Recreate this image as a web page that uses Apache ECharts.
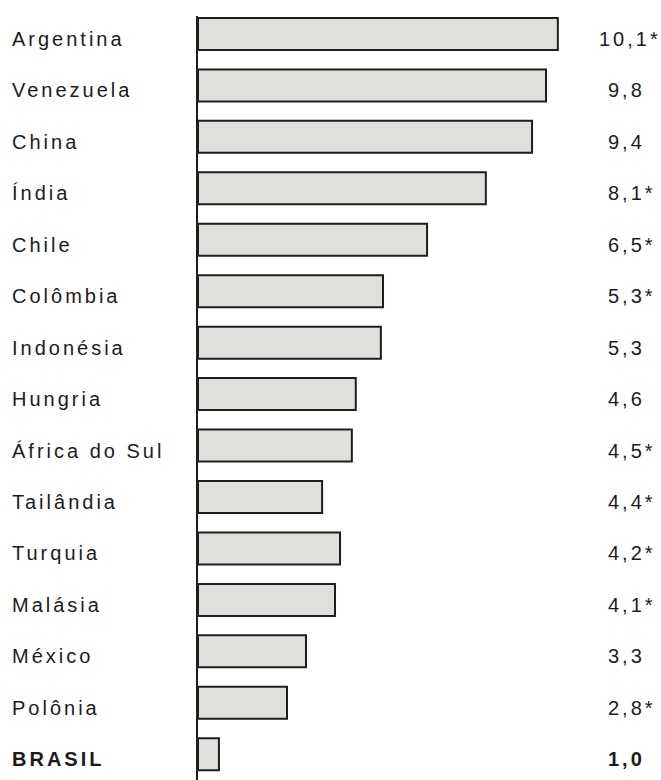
<!DOCTYPE html>
<html>
<head>
<meta charset="utf-8">
<script src="https://cdn.jsdelivr.net/npm/echarts@6/dist/echarts.min.js"></script>
<style>
  html, body { margin: 0; padding: 0; background: #ffffff; }
  #chart { width: 661px; height: 780px; }
  #chart text { letter-spacing: 3px; }
</style>
</head>
<body>
<div id="chart"></div>
<script>
// Countries (top to bottom)
const categories = ['Argentina', 'Venezuela', 'China', 'Índia', 'Chile', 'Colômbia', 'Indonésia',
  'Hungria', 'África do Sul', 'Tailândia', 'Turquia', 'Malásia', 'México', 'Polônia', 'BRASIL'];
// Bar lengths as drawn in the picture
const barValues = [10.1, 9.77, 9.38, 8.09, 6.45, 5.22, 5.16, 4.46, 4.35, 3.52, 4.02, 3.88, 3.07, 2.54, 0.64];
// Printed value labels
const valueLabels = ['10,1*', '9,8', '9,4', '8,1*', '6,5*', '5,3*', '5,3', '4,6', '4,5*', '4,4*',
  '4,2*', '4,1*', '3,3', '2,8*', '1,0'];

const FONT = 'Liberation Sans, Arial, sans-serif';
const TXT = '#1c1c1c';
const FS = 20;

const chart = echarts.init(document.getElementById('chart'), null, { renderer: 'svg' });
const option = {
  animation: false,
  backgroundColor: '#ffffff',
  grid: { left: 197, top: 8.2, width: 412, height: 773.1 },
  xAxis: { type: 'value', min: 0, max: 11.5, show: false },
  yAxis: [
    {
      type: 'category', data: categories, inverse: true,
      axisLine: { show: false }, axisTick: { show: false }, splitLine: { show: false },
      axisLabel: {
        align: 'left', margin: 185, fontSize: FS, fontFamily: FONT, color: TXT,
        padding: [10, 0, 0, 0],
        formatter: function (v) { return v === 'BRASIL' ? '{b|' + v + '}' : v; },
        rich: { b: { fontWeight: 'bold', fontSize: FS, fontFamily: FONT, color: TXT } }
      }
    },
    {
      type: 'category', data: valueLabels, inverse: true, position: 'right',
      axisLine: { show: false }, axisTick: { show: false }, splitLine: { show: false },
      axisLabel: {
        align: 'left', margin: -10, fontSize: FS, fontFamily: FONT, color: TXT,
        padding: [10, 0, 0, 0],
        formatter: function (v, i) {
          const twoDigits = v.split(',')[0].length > 1;
          const bold = (i === valueLabels.length - 1);
          const key = (twoDigits ? 'w' : 'n') + (bold ? 'b' : '');
          return '{' + key + '|' + v + '}';
        },
        rich: {
          w: { fontSize: FS, fontFamily: FONT, color: TXT },
          n: { fontSize: FS, fontFamily: FONT, color: TXT, padding: [0, 0, 0, 9] },
          wb: { fontSize: FS, fontFamily: FONT, color: TXT, fontWeight: 'bold' },
          nb: { fontSize: FS, fontFamily: FONT, color: TXT, fontWeight: 'bold', padding: [0, 0, 0, 9] }
        }
      }
    }
  ],
  series: [{
    type: 'bar', yAxisIndex: 0, data: barValues, barWidth: 34,
    itemStyle: { color: '#dfdfdc', borderColor: '#1e1e1e', borderWidth: 2 }
  }]
};
chart.setOption(option);

// Vertical axis line from the top of the first bar down to the bottom
const p0 = chart.convertToPixel({ gridIndex: 0 }, [0, categories[0]]);
chart.setOption({
  graphic: [{
    type: 'line',
    shape: { x1: p0[0], y1: p0[1] - 18, x2: p0[0], y2: 780 },
    style: { stroke: '#1e1e1e', lineWidth: 2 }
  }]
});
</script>
</body>
</html>
